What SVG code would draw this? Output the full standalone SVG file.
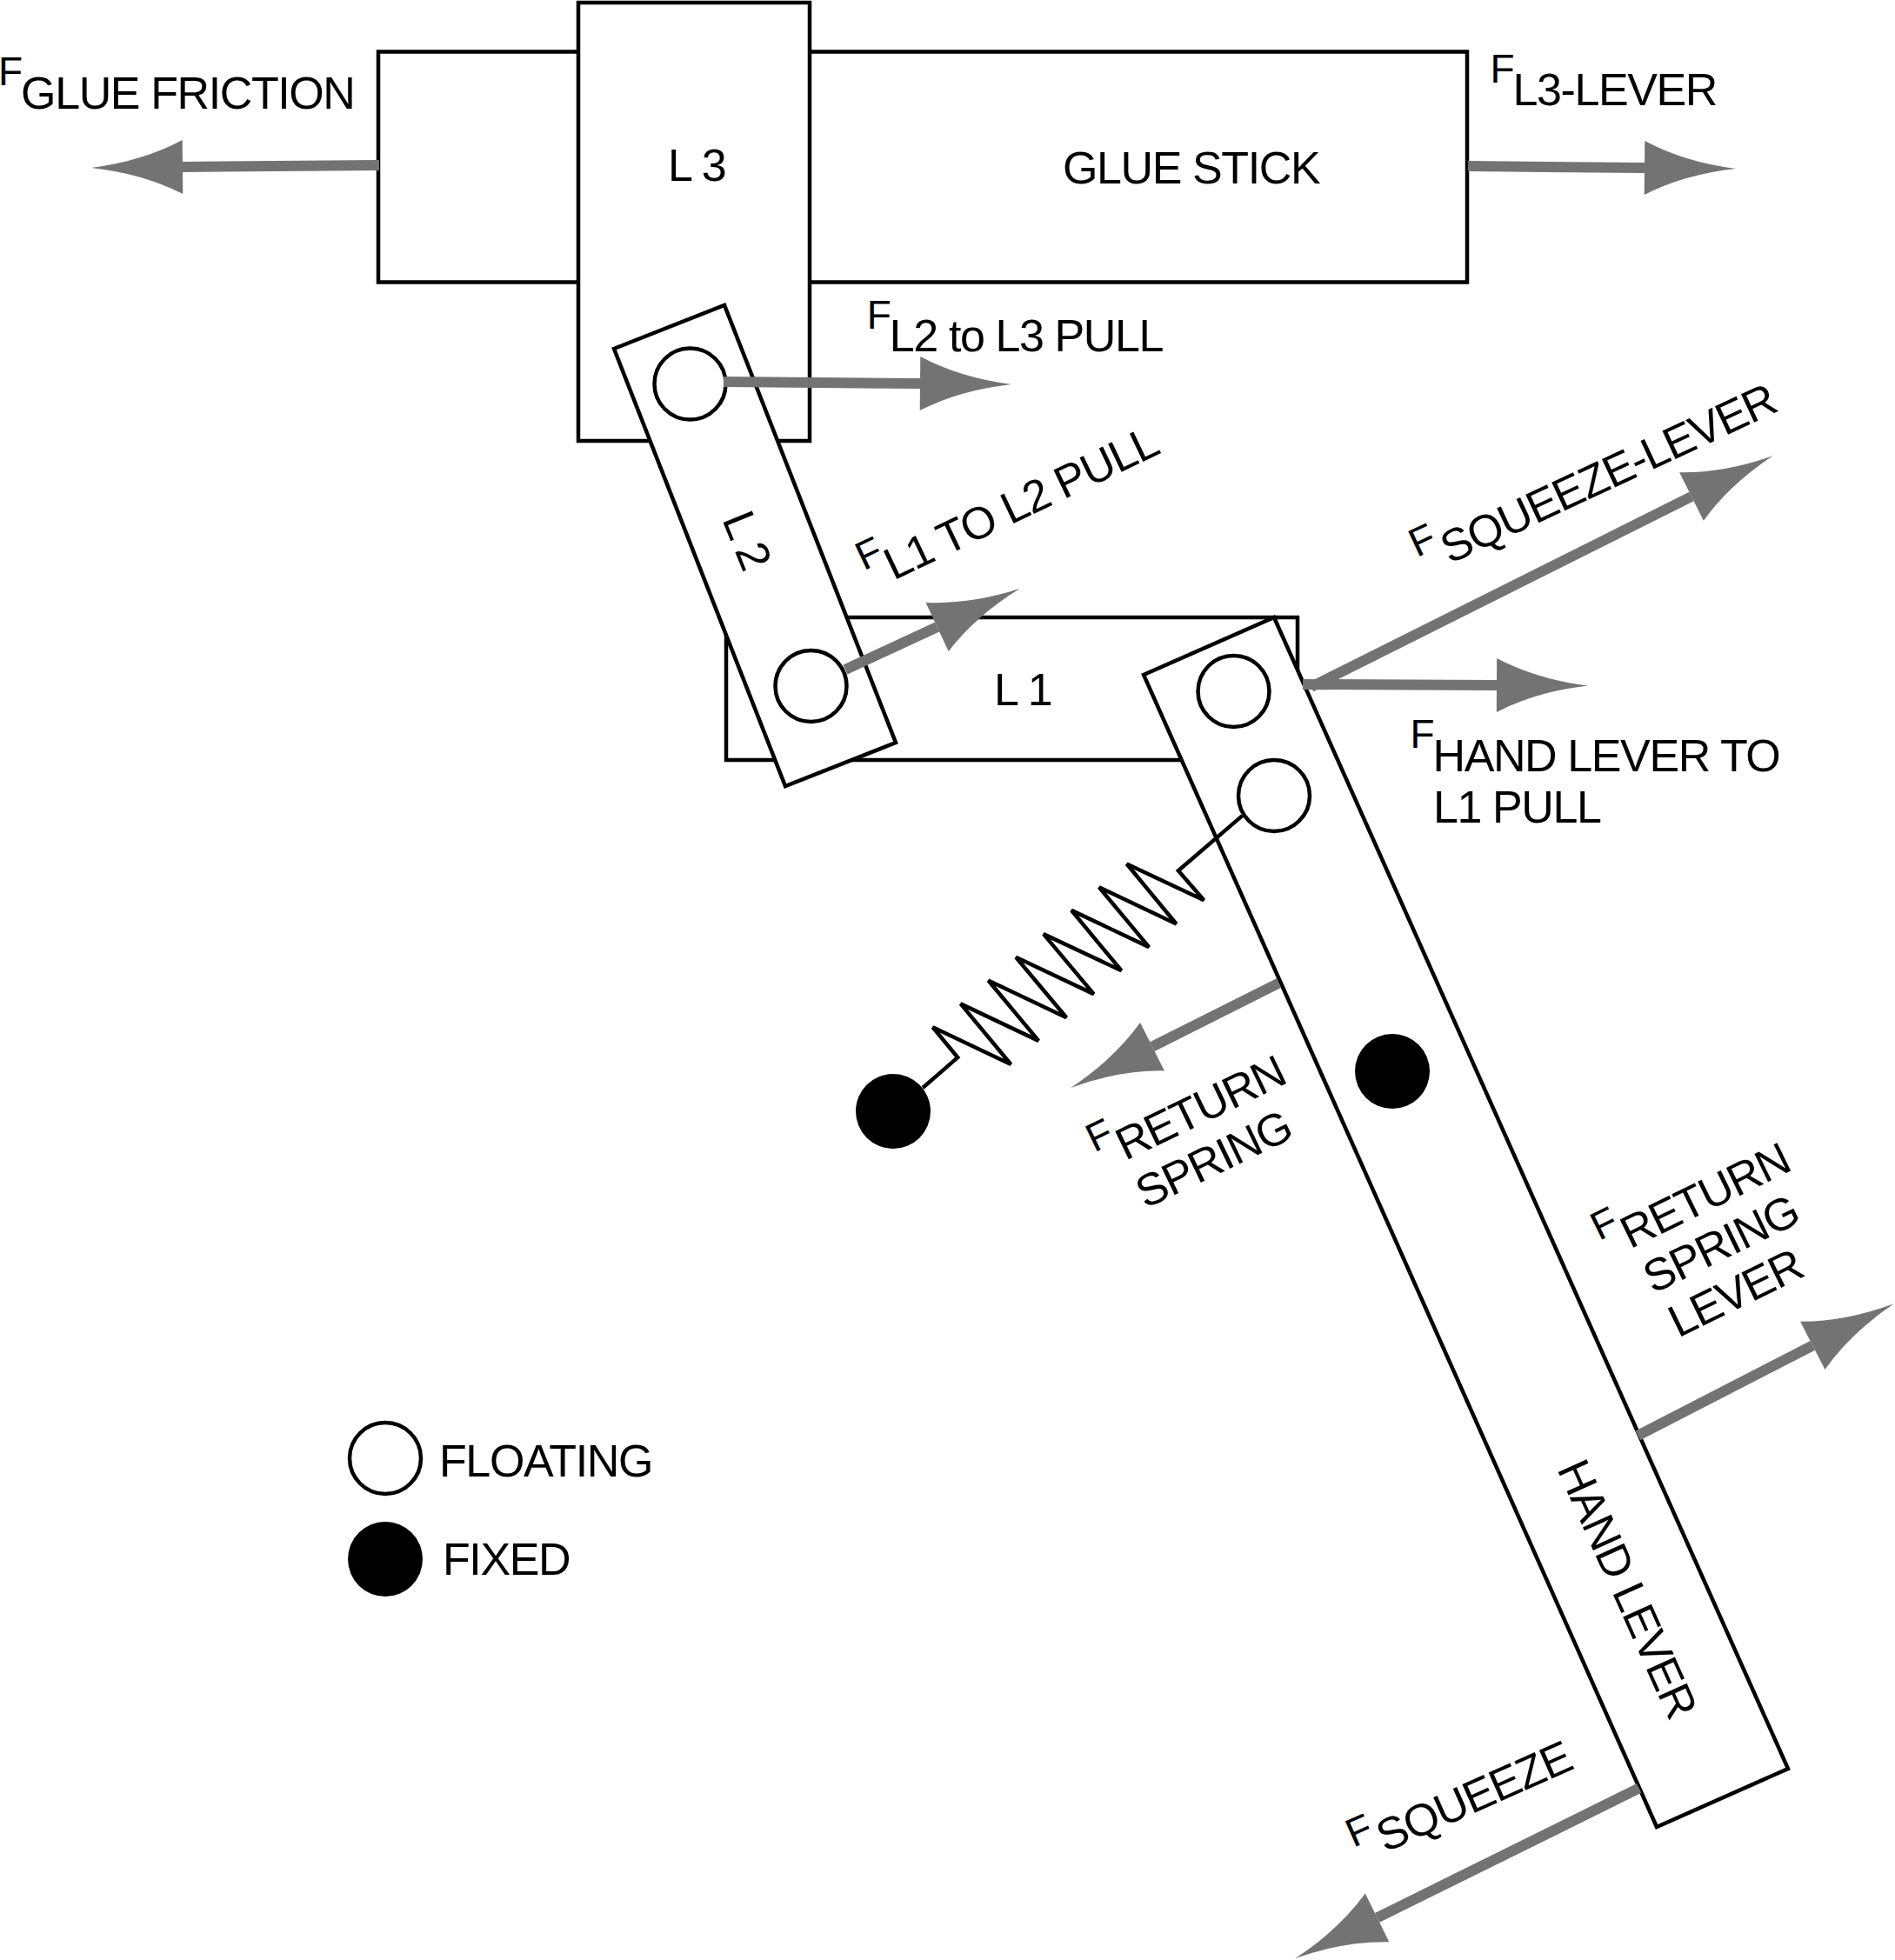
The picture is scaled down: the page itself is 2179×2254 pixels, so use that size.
<svg xmlns="http://www.w3.org/2000/svg" width="2179" height="2254" viewBox="0 0 2179 2254">
<style>
.b{fill:#fff;stroke:#000;stroke-width:4.5}
.p{fill:#fff;stroke:#000;stroke-width:4.5}
.k{fill:#000}
.a{fill:none;stroke:#737373;stroke-width:12}
.s{fill:none;stroke:#000;stroke-width:4.5;stroke-linejoin:miter}
text{font-family:"Liberation Sans",Arial,sans-serif;font-size:52px;letter-spacing:-1.400px;fill:#000}
.f{font-size:46px;letter-spacing:0}
</style>
<defs>
<marker id="head" markerUnits="userSpaceOnUse" markerWidth="112" markerHeight="70" viewBox="0 0 112 70" refX="2" refY="35" orient="auto">
<path d="M2,4 Q48,28 107,35 Q48,42 2,66 Z" fill="#737373"/>
</marker>
</defs>
<rect width="2179" height="2254" fill="#fff"/>
<g id="glue-stick"><rect class="b" x="435" y="59.500" width="1252" height="265"/></g>
<g id="l3"><rect class="b" x="665" y="3" width="266" height="504"/></g>
<g id="l1"><rect class="b" x="835" y="710" width="657" height="164"/></g>
<g id="l2"><polygon class="b" points="706,401 833,351 1030,854 903,904"/>
<circle class="p" cx="793.500" cy="441.500" r="41"/><circle class="p" cx="932.500" cy="789" r="41"/></g>
<g id="hand-lever"><polygon class="b" points="1315,776 1465,710 2056,2034 1905,2101"/>
<circle class="p" cx="1418.500" cy="795" r="41"/><circle class="p" cx="1465" cy="915" r="41"/>
<circle class="k" cx="1601" cy="1232" r="43"/></g>
<g id="spring"><polyline class="s" points="1428.400,938.100 1354.900,1001.200 1384.400,1035.300 1295.600,993.500 1352.600,1062.500 1263.800,1020.400 1321.200,1089.100 1232,1046.900 1289.500,1116.300 1199.900,1074.100 1257.700,1143.100 1168.100,1100.700 1226.300,1170.300 1136.400,1127.500 1194.200,1196.900 1104.600,1154.400 1162.400,1224 1072.500,1181.300 1101.200,1216.100 1061,1251"/>
<circle class="k" cx="1027" cy="1278" r="43"/></g>
<g id="connectors">
<line class="a" x1="436" y1="190" x2="210" y2="192" marker-end="url(#head)"/>
<line class="a" x1="1688" y1="191" x2="1891" y2="193" marker-end="url(#head)"/>
<line class="a" x1="832" y1="439" x2="1058" y2="441" marker-end="url(#head)"/>
<line class="a" x1="972" y1="770" x2="1077.600" y2="721" marker-end="url(#head)"/>
<line class="a" x1="1507.600" y1="790" x2="1945" y2="571" marker-end="url(#head)"/>
<line class="a" x1="1498" y1="787" x2="1721" y2="788" marker-end="url(#head)"/>
<line class="a" x1="1470.500" y1="1130.500" x2="1325" y2="1203.700" marker-end="url(#head)"/>
<line class="a" x1="1883.300" y1="1650.800" x2="2084.300" y2="1547.400" marker-end="url(#head)"/>
<line class="a" x1="1884.700" y1="2056.400" x2="1583.600" y2="2205.400" marker-end="url(#head)"/>
</g>
<g id="labels">
<text x="768" y="208">L 3</text>
<text x="1143" y="811">L 1</text>
<text x="1222" y="211">GLUE STICK</text>
<text transform="translate(830 597) rotate(68)">L 2</text>
<text transform="translate(1790 1689) rotate(65.900)">HAND LEVER</text>
<text x="-2" y="98"><tspan class="f">F</tspan><tspan dy="27" dx="-2">GLUE FRICTION</tspan></text>
<text x="1713.400" y="95"><tspan class="f">F</tspan><tspan dy="26" dx="-2">L3-LEVER</tspan></text>
<text x="996.700" y="378"><tspan class="f">F</tspan><tspan dy="26" dx="-2">L2 to L3 PULL</tspan></text>
<text x="1621.400" y="860"><tspan class="f">F</tspan><tspan dy="27" dx="-2">HAND LEVER TO</tspan><tspan x="1648" dy="59">L1 PULL</tspan></text>
<text transform="translate(1027 668) rotate(-25.500)" x="-25.600" y="-25"><tspan class="f">F</tspan><tspan dy="25" dx="-2">L1 TO L2 PULL</tspan></text>
<text transform="translate(1667 649) rotate(-25)" x="-31" y="-23"><tspan class="f">F</tspan><tspan dy="23" dx="3">SQUEEZE-LEVER</tspan></text>
<text transform="translate(1292 1336) rotate(-25.700)" x="-26" y="-24"><tspan class="f">F</tspan><tspan dy="24">RETURN</tspan><tspan x="-1" dy="60">SPRING</tspan></text>
<text transform="translate(1874.400 1436.600) rotate(-26)" x="-28" y="-24"><tspan class="f">F</tspan><tspan dy="24">RETURN</tspan><tspan x="1" dy="58">SPRING</tspan><tspan x="5" dy="58">LEVER</tspan></text>
<text transform="translate(1590 2132) rotate(-24)" x="-28" y="-20"><tspan class="f">F</tspan><tspan dy="20" dx="3">SQUEEZE</tspan></text>
</g>
<g id="legend">
<circle class="p" cx="443" cy="1677" r="41"/><text x="505" y="1698">FLOATING</text>
<circle class="k" cx="443" cy="1793" r="43"/><text x="509" y="1811">FIXED</text>
</g>
</svg>
